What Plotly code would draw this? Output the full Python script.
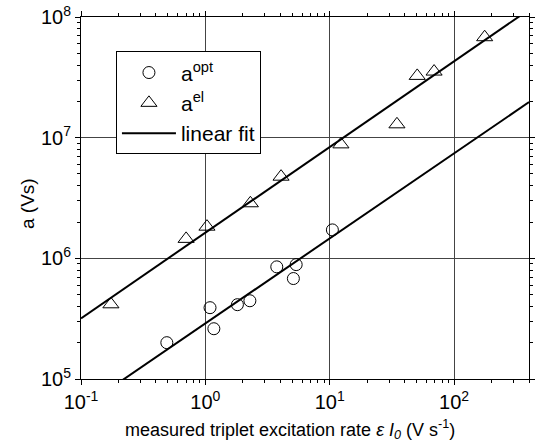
import plotly.graph_objects as go

# Data
opt_x = [0.49, 1.09, 1.17, 1.81, 2.28, 3.75, 5.1, 5.37, 10.5]
opt_y = [2.0e5, 3.9e5, 2.61e5, 4.13e5, 4.45e5, 8.5e5, 6.8e5, 8.87e5, 1.72e6]

el_x = [0.174, 0.70, 1.03, 2.3, 4.06, 12.3, 34.7, 50.5, 69, 176]
el_y = [4.16e5, 1.45e6, 1.83e6, 2.86e6, 4.75e6, 8.8e6, 1.29e7, 3.25e7, 3.53e7, 6.8e7]

fit_x = [0.1, 400]
fit_el_y = [3.18e5, 1.15e8]
fit_opt_y = [5.7e4, 1.97e7]

x_tickvals = [0.1, 1, 10, 100]
x_ticktext = ["10<sup>-1</sup>", "10<sup>0</sup>", "10<sup>1</sup>", "10<sup>2</sup>"]
y_tickvals = [1e5, 1e6, 1e7, 1e8]
y_ticktext = ["10<sup>5</sup>", "10<sup>6</sup>", "10<sup>7</sup>", "10<sup>8</sup>"]

x_minor = [d * 10.0 ** e for e in range(-1, 3) for d in range(2, 10) if d * 10.0 ** e <= 400]
y_minor = [d * 10.0 ** e for e in range(5, 8) for d in range(2, 10)]

FONT = "Arial, Liberation Sans, sans-serif"

fig = go.Figure()
fig.add_trace(go.Scatter(x=opt_x, y=opt_y, mode="markers", name="a<sup>opt</sup>",
                         marker=dict(symbol="circle-open", size=12, color="black", line=dict(width=1))))
fig.add_trace(go.Scatter(x=el_x, y=el_y, mode="markers", name="a<sup>el</sup>",
                         marker=dict(symbol="triangle-up-open", size=14, color="black", line=dict(width=1))))
fig.add_trace(go.Scatter(x=fit_x, y=fit_el_y, mode="lines", name="linear fit",
                         line=dict(color="black", width=2)))
fig.add_trace(go.Scatter(x=fit_x, y=fit_opt_y, mode="lines", name="linear fit", showlegend=False,
                         line=dict(color="black", width=2)))

axis_common = dict(
    showline=True, linecolor="black", linewidth=1, mirror="allticks",
    ticks="outside", ticklen=5, tickcolor="black", tickwidth=1,
    showgrid=True, gridcolor="#444", gridwidth=1, zeroline=False,
    tickfont=dict(family=FONT, size=20, color="black"),
    automargin=False,
)

fig.update_xaxes(type="log", range=[-1, 2.602], tickmode="array",
                 tickvals=x_tickvals, ticktext=x_ticktext,
                 minor=dict(tickmode="array", tickvals=x_minor, ticks="outside", ticklen=3,
                            tickcolor="black", showgrid=False),
                 **axis_common)
fig.update_yaxes(type="log", range=[5, 8], tickmode="array",
                 tickvals=y_tickvals, ticktext=y_ticktext,
                 minor=dict(tickmode="array", tickvals=y_minor, ticks="outside", ticklen=3,
                            tickcolor="black", showgrid=False),
                 **axis_common)

fig.update_layout(
    width=537, height=447,
    margin=dict(l=81, r=8, t=17, b=68),
    plot_bgcolor="white", paper_bgcolor="white",
    font=dict(family=FONT, color="black"),
    showlegend=True,
    legend=dict(x=0.078, y=0.905, xanchor="left", yanchor="top",
                bgcolor="white", bordercolor="black", borderwidth=1,
                font=dict(family=FONT, size=21, color="black"),
                itemwidth=54, tracegroupgap=0),
    annotations=[
        dict(text="measured triplet excitation rate <i>ε I<sub>0</sub></i> (V s<sup>-1</sup>)",
             xref="paper", yref="paper", x=(290 - 81) / 448, y=-(430 - 379) / 362,
             xanchor="center", yanchor="middle", showarrow=False,
             font=dict(family=FONT, size=18, color="black")),
        dict(text="a (Vs)", textangle=-90,
             xref="paper", yref="paper", x=-(81 - 28) / 448, y=1 - (204 - 17) / 362,
             xanchor="center", yanchor="middle", showarrow=False,
             font=dict(family=FONT, size=19, color="black")),
    ],
)

fig.write_html("out.html", config={"displayModeBar": False},
               post_script="document.body.style.margin='0';")
